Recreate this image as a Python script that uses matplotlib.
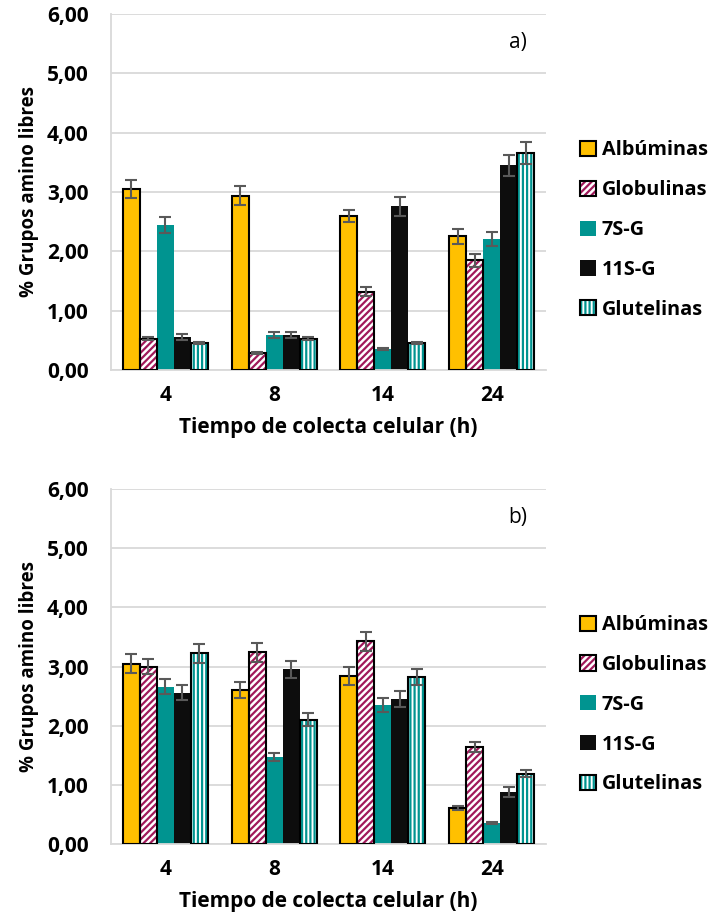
import numpy as np
import matplotlib
matplotlib.use("Agg")
import matplotlib.pyplot as plt
from matplotlib.patches import Patch
from matplotlib.legend_handler import HandlerTuple

plt.rcParams['font.family'] = ['Open Sans', 'DejaVu Sans']
plt.rcParams['hatch.linewidth'] = 1.6

times = ["4", "8", "14", "24"]
series = ["Albúminas", "Globulinas", "7S-G", "11S-G", "Glutelinas"]

# panel a)
a_vals = {
    "Albúminas":  [3.05, 2.94, 2.60, 2.25],
    "Globulinas": [0.53, 0.29, 1.32, 1.85],
    "7S-G":       [2.44, 0.59, 0.35, 2.21],
    "11S-G":      [0.56, 0.59, 2.76, 3.45],
    "Glutelinas": [0.45, 0.53, 0.45, 3.66],
}
a_err = {
    "Albúminas":  [0.15, 0.16, 0.10, 0.13],
    "Globulinas": [0.03, 0.02, 0.08, 0.11],
    "7S-G":       [0.13, 0.05, 0.02, 0.12],
    "11S-G":      [0.05, 0.05, 0.16, 0.18],
    "Glutelinas": [0.02, 0.03, 0.02, 0.19],
}
# panel b)
b_vals = {
    "Albúminas":  [3.05, 2.60, 2.84, 0.61],
    "Globulinas": [3.00, 3.24, 3.43, 1.64],
    "7S-G":       [2.66, 1.47, 2.35, 0.35],
    "11S-G":      [2.56, 2.95, 2.45, 0.88],
    "Glutelinas": [3.22, 2.10, 2.82, 1.19],
}
b_err = {
    "Albúminas":  [0.16, 0.13, 0.16, 0.03],
    "Globulinas": [0.13, 0.16, 0.16, 0.08],
    "7S-G":       [0.13, 0.07, 0.12, 0.02],
    "11S-G":      [0.12, 0.15, 0.13, 0.08],
    "Glutelinas": [0.16, 0.11, 0.13, 0.06],
}

ORANGE = "#FFC000"
MAROON = "#A0195A"
TEAL = "#009490"
BLACK = "#0D0D0D"

# face, hatch, hatch colour, outline
styles = {
    "Albúminas":  dict(face=ORANGE, hatch=None, hc=None, edge="black"),
    "Globulinas": dict(face="white", hatch="/////", hc=MAROON, edge="black"),
    "7S-G":       dict(face=TEAL, hatch=None, hc=None, edge=None),
    "11S-G":      dict(face=BLACK, hatch=None, hc=None, edge=None),
    "Glutelinas": dict(face="white", hatch="||||", hc=TEAL, edge="black"),
}

BW = 0.156
FS = 15


def draw_panel(ax, vals, errs, tag):
    x = np.arange(len(times))
    for i, s in enumerate(series):
        st = styles[s]
        xs = x + (i - 2) * BW
        if st["hatch"]:
            ax.bar(xs, vals[s], BW, color=st["face"], edgecolor=st["hc"],
                   hatch=st["hatch"], linewidth=0, zorder=2)
        else:
            ax.bar(xs, vals[s], BW, color=st["face"], linewidth=0, zorder=2)
        if st["edge"]:
            ax.bar(xs, vals[s], BW, fill=False, edgecolor=st["edge"],
                   linewidth=1.5, zorder=3)
        ax.errorbar(xs, vals[s], yerr=errs[s], fmt="none", ecolor="#595959",
                    elinewidth=1.5, capsize=4, capthick=1.5, zorder=4)

    ax.set_ylim(0, 6)
    ax.set_xlim(-0.5, 3.5)
    ax.set_yticks(np.arange(0, 6.01, 1))
    ax.set_yticklabels([f"{v:.2f}".replace(".", ",") for v in np.arange(0, 6.01, 1)],
                       fontsize=FS, fontweight="bold")
    ax.set_xticks(x)
    ax.set_xticklabels(times, fontsize=FS, fontweight="bold")
    ax.tick_params(axis="x", length=0, pad=11)
    ax.tick_params(axis="y", length=0, pad=16)
    ax.grid(axis="y", color="#D9D9D9", linewidth=1.3, zorder=0)
    ax.set_axisbelow(True)
    for side in ["top", "right"]:
        ax.spines[side].set_visible(False)
    for side in ["left", "bottom"]:
        ax.spines[side].set_color("#D9D9D9")
        ax.spines[side].set_linewidth(1.3)
    ax.set_ylabel("% Grupos amino libres", fontsize=13.5, fontweight="bold", labelpad=6)
    ax.set_xlabel("Tiempo de colecta celular (h)", fontsize=FS, fontweight="bold", labelpad=8)
    ax.text(0.935, 0.92, tag, transform=ax.transAxes, fontsize=15, ha="center", va="center")

    handles = []
    for s in series:
        st = styles[s]
        if st["hatch"]:
            h = (Patch(facecolor=st["face"], edgecolor=st["hc"], hatch=st["hatch"], linewidth=0),
                 Patch(fill=False, edgecolor="black", linewidth=1.5))
        elif st["edge"]:
            h = Patch(facecolor=st["face"], edgecolor="black", linewidth=1.5)
        else:
            h = Patch(facecolor=st["face"], linewidth=0)
        handles.append(h)
    leg = ax.legend(handles, series, loc="upper left", bbox_to_anchor=(1.078, 0.645),
                    frameon=False, handlelength=0.8, handleheight=0.8, handletextpad=0.3,
                    labelspacing=1.0, borderaxespad=0, borderpad=0,
                    prop=dict(size=14.3, weight="bold"),
                    handler_map={tuple: HandlerTuple(ndivide=1, pad=0)})
    return leg


fig = plt.figure(figsize=(7.09, 9.19), dpi=100)
ax1 = fig.add_axes([0.1566, 0.5974, 0.6135, 0.3874])
ax2 = fig.add_axes([0.1566, 0.0816, 0.6135, 0.3863])
draw_panel(ax1, a_vals, a_err, "a)")
draw_panel(ax2, b_vals, b_err, "b)")

fig.savefig("out.png", dpi=100)
